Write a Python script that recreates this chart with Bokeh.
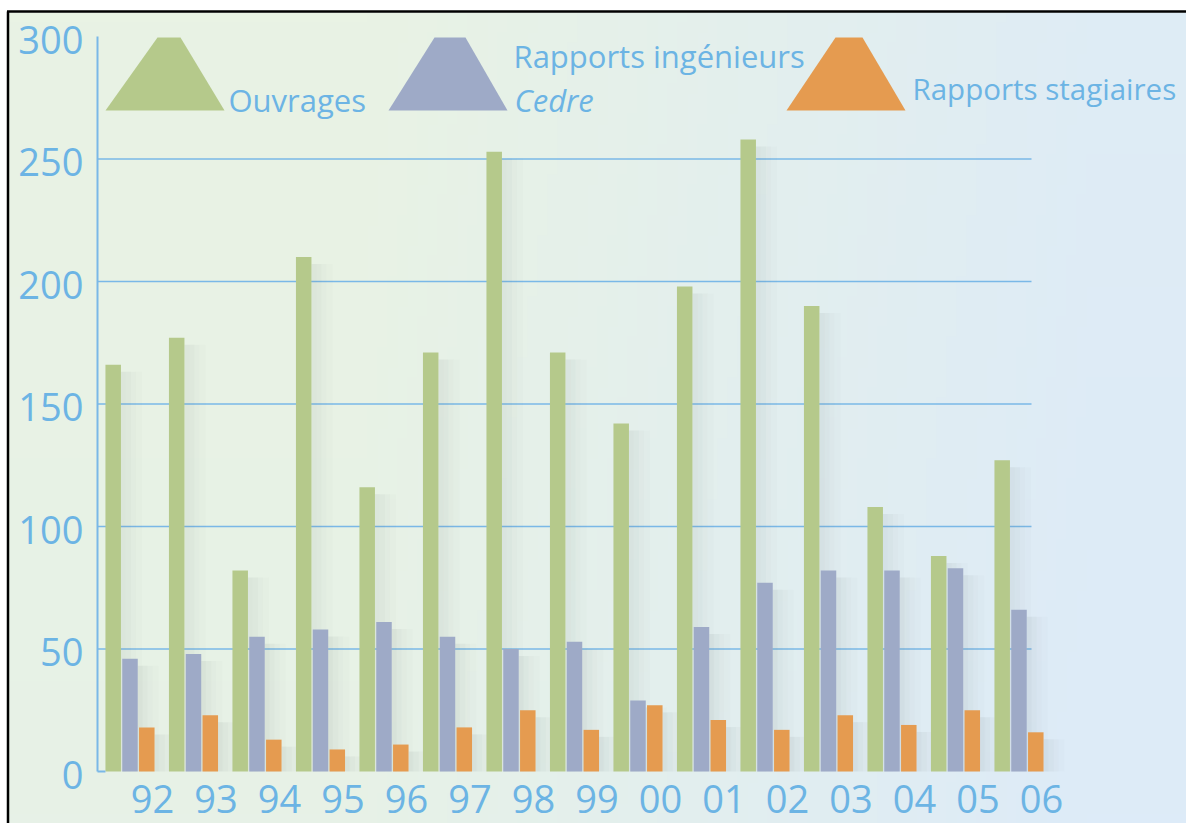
import numpy as np
from bokeh.plotting import figure
from bokeh.models import ColumnDataSource, Range1d
from bokeh.core.properties import value
from bokeh.embed import file_html
from bokeh.resources import INLINE

# ---------------- data ----------------
years = ["92", "93", "94", "95", "96", "97", "98", "99", "00", "01", "02", "03", "04", "05", "06"]
ouvrages = [166, 177, 82, 210, 116, 171, 253, 171, 142, 198, 258, 190, 108, 88, 127]
rapports_ingenieurs = [46, 48, 55, 58, 61, 55, 50, 53, 29, 59, 77, 82, 82, 83, 66]
rapports_stagiaires = [18, 23, 13, 9, 11, 18, 25, 17, 27, 21, 17, 23, 19, 25, 16]
y_ticks = [0, 50, 100, 150, 200, 250, 300]
grid_values = [50, 100, 150, 200, 250]
series_names = ["Ouvrages", "Rapports ingénieurs", "Cedre", "Rapports stagiaires"]

# ---------------- styling / geometry ----------------
GREEN, BLUE, ORANGE = "#b5c98b", "#9eaac7", "#e59b50"
TEXT_BLUE = "#6cb4e4"
GRID_BLUE = "#7ab8e7"
FONT = "Open Sans"

W, H = 1186, 823
GX0, PITCH = 129.5, 63.5   # page x of first group centre, group pitch (px)
Y0, PPU = 771.0, 2.45      # page y of value 0, pixels per unit


def dx(px):
    return (px - GX0) / PITCH


def dy(py):
    return (Y0 - py) / PPU


p = figure(width=W, height=H,
           x_range=Range1d(dx(0), dx(W)),
           y_range=Range1d(dy(H), dy(0)),
           x_axis_type=None, y_axis_type=None,
           toolbar_location=None, output_backend="svg", min_border=0)
p.outline_line_color = None
p.background_fill_color = "#ffffff"
p.border_fill_color = "#ffffff"

# background gradient (green-ish left -> light blue right), inside the black frame
BG_X0, BG_Y0 = 8, 12
nx, ny = 118, 80
gx = np.linspace(0, 1, nx)
gy = np.linspace(0, 1, ny)          # 0 = bottom row
GXm, GYm = np.meshgrid(gx, gy)
t = np.clip((GXm - 0.30) / 0.62, 0, 1) * 0.85 + (1 - GYm) * 0.15
t = np.clip(t, 0, 1)
c0 = np.array([233, 243, 228], dtype=float)
c1 = np.array([221, 235, 248], dtype=float)
rgb = c0 + (c1 - c0) * t[..., None]
img = np.empty((ny, nx), dtype=np.uint32)
view = img.view(dtype=np.uint8).reshape((ny, nx, 4))
view[..., 0] = rgb[..., 0]
view[..., 1] = rgb[..., 1]
view[..., 2] = rgb[..., 2]
view[..., 3] = 255
p.image_rgba(image=[img], x=dx(BG_X0), y=dy(H),
             dw=dx(W) - dx(BG_X0), dh=dy(BG_Y0) - dy(H))

# gridlines
n_g = len(grid_values)
p.segment(x0=[dx(97)] * n_g, y0=grid_values, x1=[dx(1031)] * n_g, y1=grid_values,
          line_color=GRID_BLUE, line_width=1.6)

# bars
idx = np.arange(len(years))
BW = 15.5 / PITCH
OFF = 16.8 / PITCH
series = [(ouvrages, -OFF, GREEN), (rapports_ingenieurs, 0.0, BLUE), (rapports_stagiaires, OFF, ORANGE)]

# soft shadows to the right of each bar
shadow_steps = [(0, 5, 0.09), (5, 5, 0.065), (10, 5, 0.04), (15, 6, 0.018)]
for vals, off, col in series:
    v = np.array(vals, dtype=float)
    for s0, sw, a in shadow_steps:
        left = idx + off + BW / 2 + s0 / PITCH
        p.quad(left=left, right=left + sw / PITCH, top=np.maximum(v - 7 / PPU, 0), bottom=0,
               fill_color="#5f7070", fill_alpha=a, line_color=None)

for vals, off, col in series:
    src = ColumnDataSource(dict(x=idx + off, top=vals))
    p.vbar(x="x", top="top", bottom=0, width=BW, source=src, fill_color=col, line_color=None)

# axis lines
p.segment(x0=[dx(97)], y0=[0], x1=[dx(97)], y1=[300], line_color=GRID_BLUE, line_width=2)
p.segment(x0=[dx(97)], y0=[0], x1=[-OFF - BW / 2], y1=[0], line_color=GRID_BLUE, line_width=2)

# y tick labels
p.text(x=[dx(83)] * len(y_ticks), y=y_ticks, text=[str(v) for v in y_ticks],
       text_align="right", text_baseline="middle", y_offset=3,
       text_font=value(FONT), text_font_size="38px", text_color=TEXT_BLUE)

# x tick labels
p.text(x=idx + 22.5 / PITCH, y=[dy(798)] * len(years), text=years,
       text_align="center", text_baseline="middle",
       text_font=value(FONT), text_font_size="38px", text_color=TEXT_BLUE)

# legend markers (trapezoids)
p.patches(xs=[[dx(105), dx(157), dx(180), dx(224)],
              [dx(388), dx(434), dx(465), dx(507)],
              [dx(786), dx(835), dx(862), dx(905)]],
          ys=[[dy(110), dy(37), dy(37), dy(110)]] * 3,
          fill_color=[GREEN, BLUE, ORANGE], line_color=None)

# legend texts
p.text(x=[dx(228), dx(513)], y=[dy(99.5), dy(55)],
       text=[series_names[0], series_names[1]],
       text_align="left", text_baseline="middle",
       text_font=value(FONT), text_font_size="31px", text_color=TEXT_BLUE)
p.text(x=[dx(912)], y=[dy(88)], text=[series_names[3]],
       text_align="left", text_baseline="middle",
       text_font=value(FONT), text_font_size="29.5px", text_color=TEXT_BLUE)
p.text(x=[dx(514)], y=[dy(99)], text=[series_names[2]],
       text_align="left", text_baseline="middle", text_font_style="italic",
       text_font=value(FONT), text_font_size="31px", text_color=TEXT_BLUE)

# black frame (top and left only)
p.segment(x0=[dx(6.5), dx(7.5)], y0=[dy(11), dy(11)], x1=[dx(W), dx(7.5)], y1=[dy(11), dy(H)],
          line_color="black", line_width=2.5)

open("out.html", "w").write(file_html(p, INLINE))
